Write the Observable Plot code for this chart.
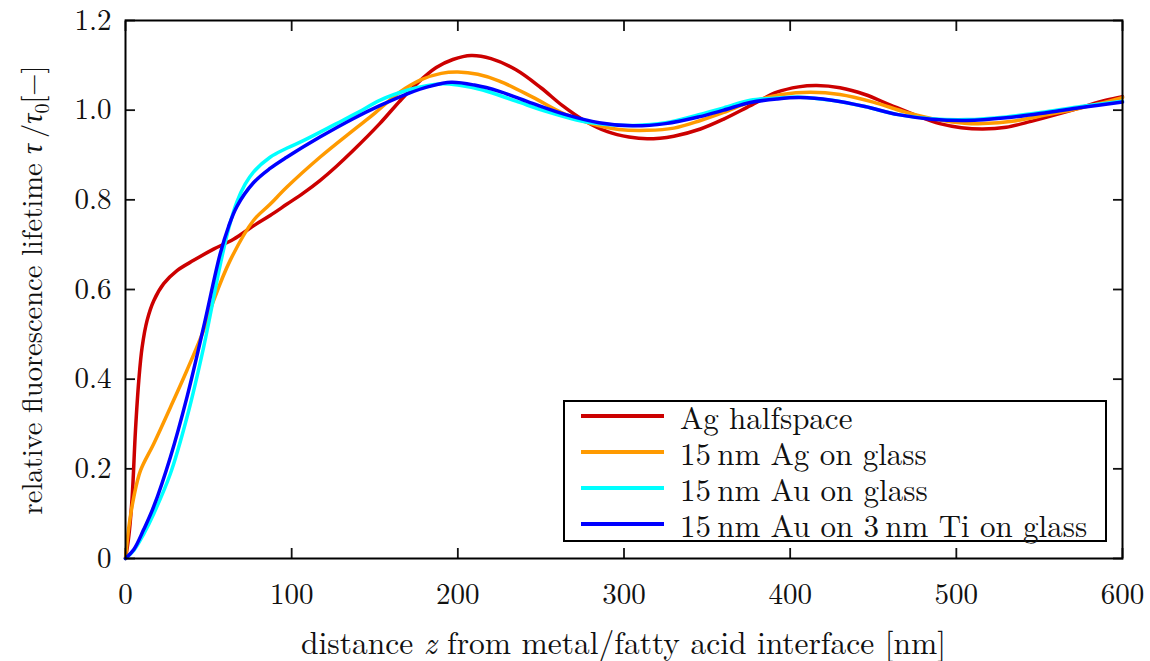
<!DOCTYPE html>
<html>
<head>
<meta charset="utf-8">
<script src="https://cdn.jsdelivr.net/npm/d3@7"></script>
<script src="https://cdn.jsdelivr.net/npm/@observablehq/plot@0.6"></script>
<style>
  html, body { margin: 0; padding: 0; background: #fff; }
  #wrap { position: relative; width: 1150px; height: 661px; }
  #wrap, #wrap * { font-family: 'Latin Modern Roman', 'Liberation Serif', serif !important; }
  #wrap svg { overflow: visible; }
  #legend { position: absolute; left: 563px; top: 400px; width: 540px; height: 138px; border: 2px solid #000; background: #fff; }
  .row { position: absolute; left: 0; height: 34px; line-height: 34px; display: flex; align-items: center; font-size: 31px; color: #111; white-space: nowrap; }
  .sw { display: inline-block; width: 83px; height: 4px; margin-left: 16px; margin-right: 16px; }
  #xlabel { position: absolute; left: 125px; width: 997px; top: 625px; height: 32px; line-height: 32px; text-align: center; font-size: 31.5px; color: #111; white-space: nowrap; }
  #ylabel { position: absolute; left: 30px; top: 290px; line-height: 32px; transform: translate(-50%, -50%) rotate(-90deg); font-size: 28.5px; color: #111; white-space: nowrap; }
</style>
</head>
<body>
<div id="wrap"></div>
<script>
// ---- data ----
const seriesNames = ["Ag halfspace", "15\u2009nm Ag on glass", "15\u2009nm Au on glass", "15\u2009nm Au on 3\u2009nm Ti on glass"];
const seriesColors = ["#cc0000", "#ff9a00", "#00ffff", "#0000ff"];

const agHalfspace = [[0,0],[2,0.05],[4,0.137],[6,0.286],[8,0.397],[10,0.471],[13,0.531],[17,0.575],[23,0.613],[31,0.642],[41,0.665],[53,0.69],[65,0.712],[77,0.742],[87,0.765],[97,0.79],[107,0.815],[117,0.843],[127,0.875],[137,0.91],[153,0.97],[165,1.02],[175,1.058],[187,1.095],[197,1.113],[208,1.122],[220,1.115],[235,1.09],[250,1.05],[263,1.01],[276,0.977],[290,0.952],[303,0.94],[314,0.936],[330,0.942],[346,0.958],[360,0.98],[376,1.01],[392,1.04],[405,1.052],[416,1.055],[430,1.05],[445,1.035],[460,1.012],[476,0.988],[490,0.97],[503,0.961],[516,0.958],[530,0.962],[545,0.975],[560,0.99],[575,1.006],[590,1.022],[600,1.03]];

const ag15Glass = [[0,0],[2,0.07],[5,0.137],[9,0.196],[17,0.256],[27,0.337],[37,0.42],[47,0.509],[53,0.575],[63,0.665],[77,0.754],[87,0.79],[97,0.828],[117,0.895],[137,0.955],[149,0.99],[165,1.04],[178,1.068],[190,1.082],[200,1.085],[212,1.08],[225,1.065],[245,1.029],[265,0.99],[280,0.97],[297,0.957],[314,0.955],[330,0.96],[346,0.977],[360,0.995],[376,1.018],[395,1.035],[412,1.04],[430,1.035],[450,1.018],[470,0.995],[490,0.978],[505,0.971],[516,0.97],[535,0.976],[555,0.99],[575,1.005],[600,1.028]];

const au15Glass = [[0,0],[5,0.018],[11,0.055],[17,0.1],[27,0.189],[37,0.315],[47,0.471],[57,0.655],[62,0.735],[67,0.795],[72,0.835],[77,0.862],[87,0.895],[97,0.915],[107,0.932],[127,0.97],[140,0.995],[153,1.022],[170,1.045],[182,1.055],[191,1.059],[200,1.056],[215,1.045],[235,1.02],[255,0.995],[275,0.975],[290,0.968],[306,0.966],[325,0.972],[345,0.99],[360,1.005],[376,1.022],[392,1.027],[406,1.029],[425,1.022],[445,1.008],[465,0.99],[485,0.981],[506,0.979],[530,0.985],[555,0.997],[575,1.008],[600,1.02]];

const au15Ti3Glass = [[0,0],[5,0.02],[11,0.065],[17,0.116],[27,0.226],[37,0.36],[47,0.516],[57,0.68],[62,0.74],[67,0.785],[77,0.838],[87,0.87],[97,0.895],[117,0.94],[137,0.981],[153,1.01],[170,1.037],[183,1.053],[196,1.062],[210,1.056],[225,1.042],[245,1.015],[265,0.99],[285,0.972],[305,0.965],[325,0.97],[345,0.985],[360,1.0],[376,1.017],[392,1.025],[406,1.028],[425,1.022],[445,1.008],[465,0.99],[485,0.98],[506,0.977],[530,0.983],[555,0.995],[575,1.006],[600,1.018]];

const xTicks = [0, 100, 200, 300, 400, 500, 600];
const yTicks = [0, 0.2, 0.4, 0.6, 0.8, 1.0, 1.2];
const yTickLabels = ["0", "0.2", "0.4", "0.6", "0.8", "1.0", "1.2"];

// ---- build ----
const allSeries = [agHalfspace, ag15Glass, au15Glass, au15Ti3Glass];
const rows = allSeries.flatMap((s, i) => s.map(([x, y]) => ({x, y, series: seriesNames[i]})));

const chart = Plot.plot({
  width: 1150,
  height: 661,
  marginLeft: 125,
  marginRight: 28,
  marginTop: 20,
  marginBottom: 103,
  style: {fontFamily: "'Latin Modern Roman', 'Liberation Serif', serif", fontSize: "29px", color: "#111", overflow: "visible"},
  x: {domain: [0, 600]},
  y: {domain: [0, 1.2]},
  color: {domain: seriesNames, range: seriesColors},
  marks: [
    Plot.axisX({ticks: xTicks, tickSize: -10, tickPadding: 35, label: null, strokeWidth: 1.8, tickFormat: d => String(d)}),
    Plot.axisX({anchor: "top", ticks: xTicks, tickSize: -10, label: null, text: null, strokeWidth: 1.8}),
    Plot.axisY({ticks: yTicks, tickSize: -10, tickPadding: 24, label: null, strokeWidth: 1.8, tickFormat: d => yTickLabels[yTicks.findIndex(t => Math.abs(t - d) < 1e-9)]}),
    Plot.axisY({anchor: "right", ticks: yTicks, tickSize: -10, label: null, text: null, strokeWidth: 1.8}),
    Plot.line(rows, {x: "x", y: "y", z: "series", stroke: "series", strokeWidth: 3.5, curve: "catmull-rom"}),
    Plot.frame({stroke: "#000", strokeWidth: 2})
  ]
});

const wrap = document.getElementById("wrap");
wrap.appendChild(chart);

const xl = document.createElement("div");
xl.id = "xlabel";
xl.innerHTML = "distance <i>z</i> from metal/fatty acid interface [nm]";
wrap.appendChild(xl);

const yl = document.createElement("div");
yl.id = "ylabel";
yl.innerHTML = "relative fluorescence lifetime <i>τ</i>&thinsp;/<i>τ</i><sub style='font-size:20px;line-height:0'>0</sub>[−]";
wrap.appendChild(yl);

const lg = document.createElement("div");
lg.id = "legend";
seriesNames.forEach((name, i) => {
  const r = document.createElement("div");
  r.className = "row";
  r.style.top = (i * 36 - 3) + "px";
  const sw = document.createElement("span");
  sw.className = "sw";
  sw.style.background = seriesColors[i];
  r.appendChild(sw);
  r.appendChild(document.createTextNode(name));
  lg.appendChild(r);
});
wrap.appendChild(lg);
</script>
</body>
</html>
